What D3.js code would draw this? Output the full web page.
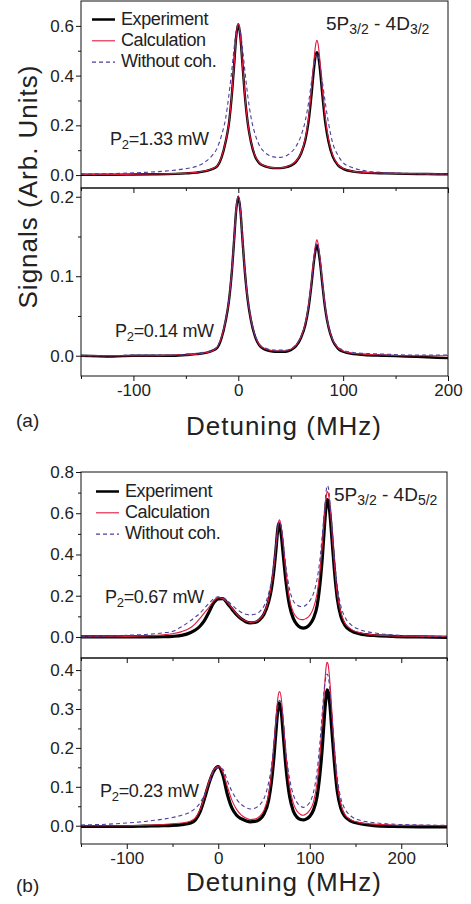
<!DOCTYPE html>
<html>
<head>
<meta charset="utf-8">
<script src="https://cdn.jsdelivr.net/npm/d3@7"></script>
<style>
body { margin: 0; background: #fff; }
svg text { font-family: "Liberation Sans", Arial, sans-serif; fill: #222; }
</style>
</head>
<body>
<svg id="viz" width="471" height="904"></svg>
<script>
// detuning grid (MHz) for panel (a)
var xA = [-150, -120, -100, -80, -60, -50, -40, -30, -25, -20, -16, -12, -9, -6, -4, -2, 0, 2, 4, 6, 9, 12, 16, 20, 25, 30, 35, 40, 45, 50, 55, 60, 64, 67, 70, 72, 74, 75, 76, 78, 80, 83, 86, 90, 95, 100, 110, 120, 140, 160, 180, 200];

// (a) upper, P2 = 1.33 mW
var a1Exp = [0.001, 0.001, 0.002, 0.003, 0.005, 0.007, 0.010, 0.017, 0.024, 0.036, 0.070, 0.135, 0.205, 0.330, 0.440, 0.556, 0.607, 0.556, 0.445, 0.333, 0.210, 0.135, 0.075, 0.048, 0.036, 0.030, 0.028, 0.028, 0.031, 0.038, 0.053, 0.088, 0.142, 0.215, 0.330, 0.420, 0.485, 0.494, 0.485, 0.420, 0.330, 0.210, 0.135, 0.075, 0.040, 0.025, 0.014, 0.010, 0.007, 0.005, 0.004, 0.003];
var a1Calc = [0.002, 0.002, 0.003, 0.004, 0.006, 0.008, 0.011, 0.018, 0.025, 0.038, 0.072, 0.137, 0.207, 0.332, 0.442, 0.557, 0.608, 0.557, 0.446, 0.334, 0.212, 0.137, 0.078, 0.050, 0.037, 0.031, 0.029, 0.029, 0.032, 0.040, 0.056, 0.090, 0.150, 0.228, 0.355, 0.455, 0.530, 0.542, 0.530, 0.455, 0.355, 0.228, 0.145, 0.080, 0.042, 0.027, 0.015, 0.011, 0.008, 0.006, 0.005, 0.004];
var a1Noc = [0.004, 0.006, 0.009, 0.013, 0.020, 0.026, 0.035, 0.058, 0.078, 0.110, 0.160, 0.230, 0.320, 0.430, 0.510, 0.580, 0.610, 0.580, 0.510, 0.430, 0.320, 0.235, 0.165, 0.120, 0.092, 0.078, 0.072, 0.071, 0.076, 0.090, 0.115, 0.160, 0.220, 0.290, 0.380, 0.435, 0.480, 0.490, 0.480, 0.435, 0.380, 0.290, 0.210, 0.130, 0.080, 0.050, 0.028, 0.018, 0.010, 0.007, 0.005, 0.004];

// (a) lower, P2 = 0.14 mW
var a2Exp = [0.000, -0.001, 0.000, 0.000, 0.000, 0.001, 0.002, 0.004, 0.006, 0.010, 0.022, 0.044, 0.068, 0.108, 0.145, 0.183, 0.200, 0.183, 0.146, 0.110, 0.070, 0.045, 0.024, 0.013, 0.008, 0.006, 0.005, 0.005, 0.005, 0.007, 0.012, 0.023, 0.039, 0.060, 0.092, 0.117, 0.135, 0.139, 0.135, 0.117, 0.092, 0.058, 0.036, 0.019, 0.009, 0.005, 0.002, 0.001, 0.000, -0.001, -0.002, -0.003];
var a2Calc = [0.000, 0.000, 0.000, 0.000, 0.001, 0.001, 0.002, 0.004, 0.006, 0.011, 0.023, 0.045, 0.069, 0.109, 0.146, 0.184, 0.201, 0.184, 0.147, 0.111, 0.071, 0.046, 0.025, 0.014, 0.009, 0.007, 0.006, 0.006, 0.006, 0.008, 0.013, 0.024, 0.041, 0.063, 0.096, 0.122, 0.142, 0.146, 0.142, 0.122, 0.096, 0.060, 0.037, 0.020, 0.010, 0.006, 0.003, 0.002, 0.001, 0.000, 0.000, 0.000];
var a2Noc = [0.000, 0.000, 0.001, 0.001, 0.001, 0.002, 0.003, 0.005, 0.007, 0.012, 0.024, 0.046, 0.070, 0.110, 0.147, 0.185, 0.201, 0.185, 0.148, 0.112, 0.072, 0.047, 0.026, 0.015, 0.010, 0.008, 0.007, 0.007, 0.007, 0.009, 0.014, 0.025, 0.041, 0.062, 0.094, 0.119, 0.138, 0.141, 0.138, 0.119, 0.094, 0.060, 0.038, 0.021, 0.011, 0.007, 0.004, 0.003, 0.002, 0.001, 0.001, 0.001];

// detuning grid (MHz) for panel (b)
var xB = [-150, -120, -100, -80, -60, -50, -40, -30, -25, -20, -15, -10, -5, 0, 5, 10, 15, 20, 25, 30, 35, 40, 45, 50, 55, 58, 61, 63, 65, 66, 67, 69, 71, 74, 78, 82, 86, 90, 93, 96, 100, 104, 108, 111, 114, 116, 118, 119, 120, 122, 124, 127, 130, 134, 138, 145, 155, 170, 190, 220, 250];

// (b) upper, P2 = 0.67 mW
var b1Exp = [0.000, 0.000, 0.000, 0.000, 0.001, 0.003, 0.008, 0.022, 0.034, 0.052, 0.080, 0.122, 0.165, 0.185, 0.186, 0.163, 0.135, 0.108, 0.088, 0.074, 0.068, 0.070, 0.082, 0.110, 0.170, 0.230, 0.330, 0.420, 0.520, 0.550, 0.545, 0.490, 0.400, 0.270, 0.150, 0.090, 0.060, 0.046, 0.043, 0.046, 0.060, 0.090, 0.150, 0.250, 0.400, 0.530, 0.640, 0.666, 0.660, 0.600, 0.490, 0.320, 0.190, 0.100, 0.060, 0.030, 0.015, 0.007, 0.003, 0.000, -0.002];
var b1Calc = [0.000, 0.001, 0.002, 0.005, 0.010, 0.016, 0.026, 0.046, 0.065, 0.090, 0.118, 0.145, 0.175, 0.190, 0.186, 0.168, 0.140, 0.112, 0.090, 0.077, 0.071, 0.073, 0.086, 0.115, 0.180, 0.250, 0.350, 0.440, 0.530, 0.560, 0.568, 0.530, 0.450, 0.310, 0.180, 0.120, 0.094, 0.085, 0.084, 0.090, 0.105, 0.140, 0.210, 0.310, 0.460, 0.580, 0.680, 0.705, 0.700, 0.640, 0.530, 0.350, 0.210, 0.120, 0.070, 0.038, 0.020, 0.010, 0.005, 0.003, 0.002];
var b1Noc = [0.003, 0.005, 0.008, 0.012, 0.020, 0.027, 0.050, 0.080, 0.097, 0.115, 0.140, 0.163, 0.185, 0.195, 0.190, 0.175, 0.155, 0.135, 0.120, 0.110, 0.107, 0.110, 0.122, 0.150, 0.210, 0.270, 0.360, 0.440, 0.520, 0.550, 0.560, 0.530, 0.460, 0.340, 0.230, 0.175, 0.155, 0.148, 0.148, 0.155, 0.175, 0.210, 0.280, 0.370, 0.510, 0.610, 0.710, 0.734, 0.730, 0.660, 0.550, 0.380, 0.250, 0.150, 0.100, 0.060, 0.035, 0.020, 0.010, 0.005, 0.003];

// (b) lower, P2 = 0.23 mW
var b2Exp = [-0.002, -0.002, -0.002, -0.001, 0.000, 0.001, 0.003, 0.007, 0.015, 0.035, 0.070, 0.110, 0.140, 0.152, 0.130, 0.080, 0.045, 0.027, 0.018, 0.013, 0.010, 0.011, 0.016, 0.030, 0.065, 0.110, 0.180, 0.240, 0.295, 0.312, 0.315, 0.290, 0.235, 0.150, 0.075, 0.038, 0.022, 0.016, 0.015, 0.017, 0.024, 0.040, 0.075, 0.130, 0.210, 0.280, 0.335, 0.349, 0.345, 0.310, 0.250, 0.160, 0.090, 0.045, 0.025, 0.012, 0.005, 0.000, -0.002, -0.003, -0.003];
var b2Calc = [0.000, 0.000, 0.000, 0.001, 0.003, 0.005, 0.007, 0.012, 0.020, 0.040, 0.075, 0.115, 0.143, 0.152, 0.138, 0.100, 0.065, 0.042, 0.028, 0.020, 0.016, 0.017, 0.024, 0.040, 0.080, 0.130, 0.210, 0.270, 0.325, 0.340, 0.345, 0.325, 0.270, 0.180, 0.100, 0.058, 0.038, 0.029, 0.027, 0.030, 0.040, 0.060, 0.110, 0.180, 0.280, 0.350, 0.410, 0.420, 0.415, 0.370, 0.300, 0.190, 0.110, 0.055, 0.030, 0.015, 0.008, 0.004, 0.002, 0.001, 0.000];
var b2Noc = [0.002, 0.004, 0.007, 0.011, 0.017, 0.021, 0.027, 0.036, 0.045, 0.058, 0.080, 0.110, 0.140, 0.150, 0.145, 0.115, 0.088, 0.068, 0.055, 0.047, 0.043, 0.045, 0.053, 0.070, 0.110, 0.150, 0.215, 0.260, 0.305, 0.318, 0.322, 0.310, 0.270, 0.190, 0.120, 0.080, 0.060, 0.050, 0.047, 0.050, 0.060, 0.085, 0.140, 0.210, 0.300, 0.355, 0.385, 0.390, 0.385, 0.350, 0.290, 0.200, 0.125, 0.070, 0.045, 0.025, 0.014, 0.008, 0.004, 0.002, 0.001];

// ticks
var xTicksA = [-100, 0, 100, 200], xMinorA = [-150, -50, 50, 150];
var xTicksB = [-100, 0, 100, 200], xMinorB = [-150, -50, 50, 150, 250];
var legendNames = ["Experiment", "Calculation", "Without coh."];

var colors = ["#000000", "#e3183f", "#4c3f9e"];

var svg = d3.select("#viz");

// panel boxes (pixel layout)
var panels = [
    { id: "a1", xs: xA, ys: [a1Exp, a1Calc, a1Noc], xDomain: [-150, 200], yDomain: [-0.052, 0.70],
      left: 81, right: 448, top: 1, bottom: 188, yMajor: [0, 0.2, 0.4, 0.6], yMinor: [0.1, 0.3, 0.5],
      power: "1.33", px: 110, py: 145, expWidth: 2.4 },
    { id: "a2", xs: xA, ys: [a2Exp, a2Calc, a2Noc], xDomain: [-150, 200], yDomain: [-0.0255, 0.211],
      left: 81, right: 448, top: 188, bottom: 376, yMajor: [0, 0.1, 0.2], yMinor: [0.05, 0.15],
      power: "0.14", px: 115, py: 336.5, expWidth: 2.4, xMajor: xTicksA, xMinor: xMinorA, label: "(a)", labelY: 427, titleY: 435, tickPad: 3 },
    { id: "b1", xs: xB, ys: [b1Exp, b1Calc, b1Noc], xDomain: [-150, 250], yDomain: [-0.102, 0.8],
      left: 81, right: 447, top: 472, bottom: 658, yMajor: [0, 0.2, 0.4, 0.6, 0.8], yMinor: [0.1, 0.3, 0.5, 0.7],
      power: "0.67", px: 105, py: 603, expWidth: 3.2 },
    { id: "b2", xs: xB, ys: [b2Exp, b2Calc, b2Noc], xDomain: [-150, 250], yDomain: [-0.047, 0.431],
      left: 81, right: 447, top: 658, bottom: 844, yMajor: [0, 0.1, 0.2, 0.3, 0.4], yMinor: [0.05, 0.15, 0.25, 0.35],
      power: "0.23", px: 100, py: 796.5, expWidth: 3.2, xMajor: xTicksB, xMinor: xMinorB, label: "(b)", labelY: 892, titleY: 891, tickPad: 2.5 }
];

panels.forEach(function(p) {
    var x = d3.scaleLinear().domain(p.xDomain).range([p.left, p.right]);
    var y = d3.scaleLinear().domain(p.yDomain).range([p.bottom, p.top]);
    var g = svg.append("g");

    g.append("clipPath").attr("id", "clip-" + p.id)
        .append("rect")
        .attr("x", p.left).attr("y", p.top)
        .attr("width", p.right - p.left).attr("height", p.bottom - p.top);

    // curves: experiment, calculation, without coherence
    var line = d3.line().curve(d3.curveMonotoneX);
    var plot = g.append("g").attr("clip-path", "url(#clip-" + p.id + ")");
    p.ys.forEach(function(vals, i) {
        var pts = p.xs.map(function(d, j) { return [x(d), y(vals[j])]; });
        plot.append("path")
            .attr("d", line(pts))
            .attr("fill", "none")
            .attr("stroke", colors[i])
            .attr("stroke-width", i == 0 ? p.expWidth : 1.1)
            .attr("stroke-dasharray", i == 2 ? "4,3" : null)
            .attr("stroke-linejoin", "round");
    });

    // frame
    g.append("rect")
        .attr("x", p.left).attr("y", p.top)
        .attr("width", p.right - p.left).attr("height", p.bottom - p.top)
        .attr("fill", "none").attr("stroke", "#111").attr("stroke-width", 1);

    // y axis, major + minor
    var yAx = g.append("g").attr("transform", "translate(" + p.left + ",0)")
        .call(d3.axisLeft(y).tickValues(p.yMajor).tickSize(5).tickPadding(2).tickFormat(d3.format(".1f")));
    yAx.select(".domain").remove();
    yAx.selectAll("text").attr("font-size", 17).attr("font-family", null);
    var yMin = g.append("g").attr("transform", "translate(" + p.left + ",0)")
        .call(d3.axisLeft(y).tickValues(p.yMinor).tickSize(3).tickFormat(""));
    yMin.select(".domain").remove();

    if (p.xMajor) {
        // inward ticks at the shared border
        [[p.xMajor, 5], [p.xMinor, 3]].forEach(function(t) {
            var top = g.append("g").attr("transform", "translate(0," + p.top + ")")
                .call(d3.axisBottom(x).tickValues(t[0]).tickSize(t[1]).tickFormat(""));
            top.select(".domain").remove();
        });
        var xAx = g.append("g").attr("transform", "translate(0," + p.bottom + ")")
            .call(d3.axisBottom(x).tickValues(p.xMajor).tickSize(5).tickPadding(p.tickPad).tickFormat(function(d) { return String(d); }));
        xAx.select(".domain").remove();
        xAx.selectAll("text").attr("font-size", 17).attr("font-family", null);
        var xMin = g.append("g").attr("transform", "translate(0," + p.bottom + ")")
            .call(d3.axisBottom(x).tickValues(p.xMinor).tickSize(3).tickFormat(""));
        xMin.select(".domain").remove();

        g.append("text")
            .attr("x", 284).attr("y", p.titleY)
            .attr("text-anchor", "middle")
            .attr("font-size", 26).attr("letter-spacing", 1)
            .text("Detuning (MHz)");
        g.append("text")
            .attr("x", 16).attr("y", p.labelY)
            .attr("font-size", 19)
            .text(p.label);
    }
    g.selectAll(".tick line").attr("stroke", "#111");

    // power annotation P2=...
    var pt = g.append("text").attr("x", p.px).attr("y", p.py).attr("font-size", 18).attr("letter-spacing", -0.3);
    pt.append("tspan").text("P");
    pt.append("tspan").attr("font-size", 13).attr("dy", 4).text("2");
    pt.append("tspan").attr("dy", -4).text("=" + p.power + " mW");
});

// transition labels and legends (upper panels)
function transition(xPos, yBase, sub) {
    var t = svg.append("text").attr("x", xPos).attr("y", yBase).attr("font-size", 19);
    t.append("tspan").text("5P");
    t.append("tspan").attr("font-size", 14).attr("dy", 4).text("3/2");
    t.append("tspan").attr("dy", -4).text(" - 4D");
    t.append("tspan").attr("font-size", 14).attr("dy", 4).text(sub);
}
transition(326, 30, "3/2");
transition(334, 500.5, "5/2");

function legend(x0, y0, expWidth) {
    var lg = svg.selectAll(null).data(legendNames).enter().append("g")
        .attr("transform", function(d, i) { return "translate(" + x0 + "," + (y0 + i * 21.3) + ")"; });
    lg.append("line")
        .attr("x1", 0).attr("x2", 23).attr("y1", -5).attr("y2", -5)
        .attr("stroke", function(d, i) { return colors[i]; })
        .attr("stroke-width", function(d, i) { return i == 0 ? expWidth : 1.1; })
        .attr("stroke-dasharray", function(d, i) { return i == 2 ? "4,3" : null; });
    lg.append("text")
        .attr("x", 29).attr("y", 0)
        .attr("font-size", 18).attr("letter-spacing", -0.4)
        .text(function(d) { return d; });
}
legend(92, 24.5, 2.5);
legend(96, 496.5, 2.5);

// shared y title
svg.append("text")
    .attr("transform", "translate(36.5,186.5) rotate(-90)")
    .attr("text-anchor", "middle")
    .attr("font-size", 26).attr("letter-spacing", 1)
    .text("Signals (Arb. Units)");
</script>
</body>
</html>
